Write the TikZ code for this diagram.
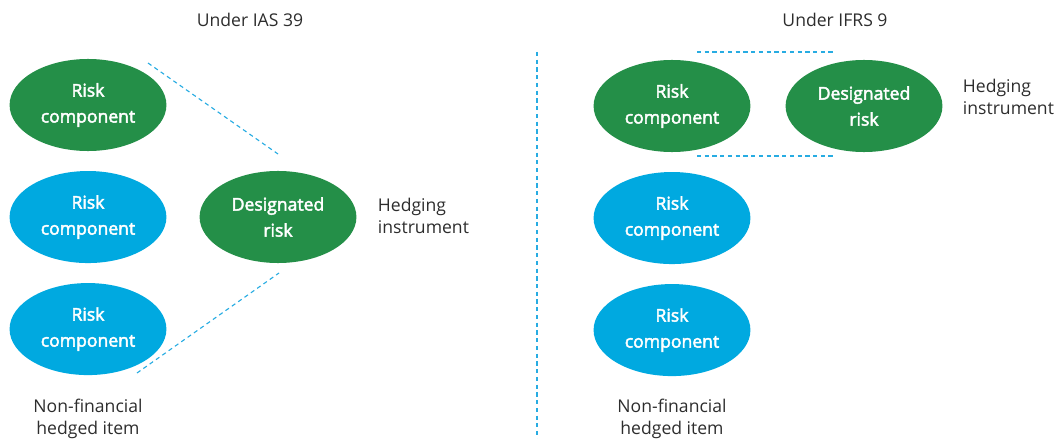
\documentclass[tikz,border=0pt]{standalone}
\usepackage{fontspec}
\setmainfont{Open Sans}
\newfontfamily\riskfont[FakeBold=2.6]{Open Sans}
\usetikzlibrary{positioning,shapes.geometric}
\definecolor{riskgreen}{RGB}{36,143,72}
\definecolor{riskblue}{RGB}{0,169,224}
\definecolor{linkblue}{RGB}{40,172,226}
\definecolor{labelgray}{RGB}{45,45,45}

\begin{document}
\begin{tikzpicture}[
        x=0.025cm,y=-0.025cm,
        on grid,node distance=2.8cm and 4.8cm,
        risk/.style={
          ellipse,inner sep=0pt,minimum width=3.92cm,minimum height=2.3cm,
          text=white,align=center,font=\riskfont\fontsize{12.5}{18.5}\selectfont},
        greenrisk/.style={risk,fill=riskgreen},
        bluerisk/.style={risk,fill=riskblue},
        caption/.style={text=labelgray,align=center,font=\fontsize{12.5}{16}\selectfont},
        link/.style={draw=linkblue,line width=0.8pt,dash pattern=on 3pt off 2.5pt}]
      \useasboundingbox (0,0) rectangle (1056,439);
      % under IAS 39
      \node[caption] (iastitle) at (250,20) {Under IAS 39};
      \node[greenrisk] (ias1) at (88,105) {Risk\\component};
      \node[bluerisk, below=of ias1] (ias2) {Risk\\component};
      \node[bluerisk, below=of ias2] (ias3) {Risk\\component};
      \node[greenrisk] (iasdes) at (278,217) {Designated\\risk};
      \node[caption, anchor=west, align=left] (iashedge) at (373,216) {Hedging\\instrument};
      \node[caption] (iasitem) at (88,419) {Non-financial\\hedged item};
      \coordinate (iastopa) at (148,63);
      \coordinate (iastopb) at (278,154);
      \coordinate (iasbota) at (137,373);
      \coordinate (iasbotb) at (279,273);
      \draw[link] (iastopa) -- (iastopb);
      \draw[link] (iasbota) -- (iasbotb);
      % divider
      \coordinate (divtop) at (537,52);
      \coordinate (divbot) at (537,439);
      \draw[link] (divtop) -- (divbot);
      % under IFRS 9
      \node[caption] (ifrstitle) at (835,20) {Under IFRS 9};
      \node[greenrisk] (ifrs1) at (672,106) {Risk\\component};
      \node[greenrisk] (ifrsdes) at (864,106) {Designated\\risk};
      \node[bluerisk, below=of ifrs1] (ifrs2) {Risk\\component};
      \node[bluerisk, below=of ifrs2] (ifrs3) {Risk\\component};
      \node[caption, anchor=west, align=left] (ifrshedge) at (958,97) {Hedging\\instrument};
      \node[caption] (ifrsitem) at (672,419) {Non-financial\\hedged item};
      \coordinate (boxtopa) at (697,52);
      \coordinate (boxtopb) at (835,52);
      \coordinate (boxbota) at (697,156);
      \coordinate (boxbotb) at (835,156);
      \draw[link] (boxtopa) -- (boxtopb);
      \draw[link] (boxbota) -- (boxbotb);
    \end{tikzpicture}
\end{document}
